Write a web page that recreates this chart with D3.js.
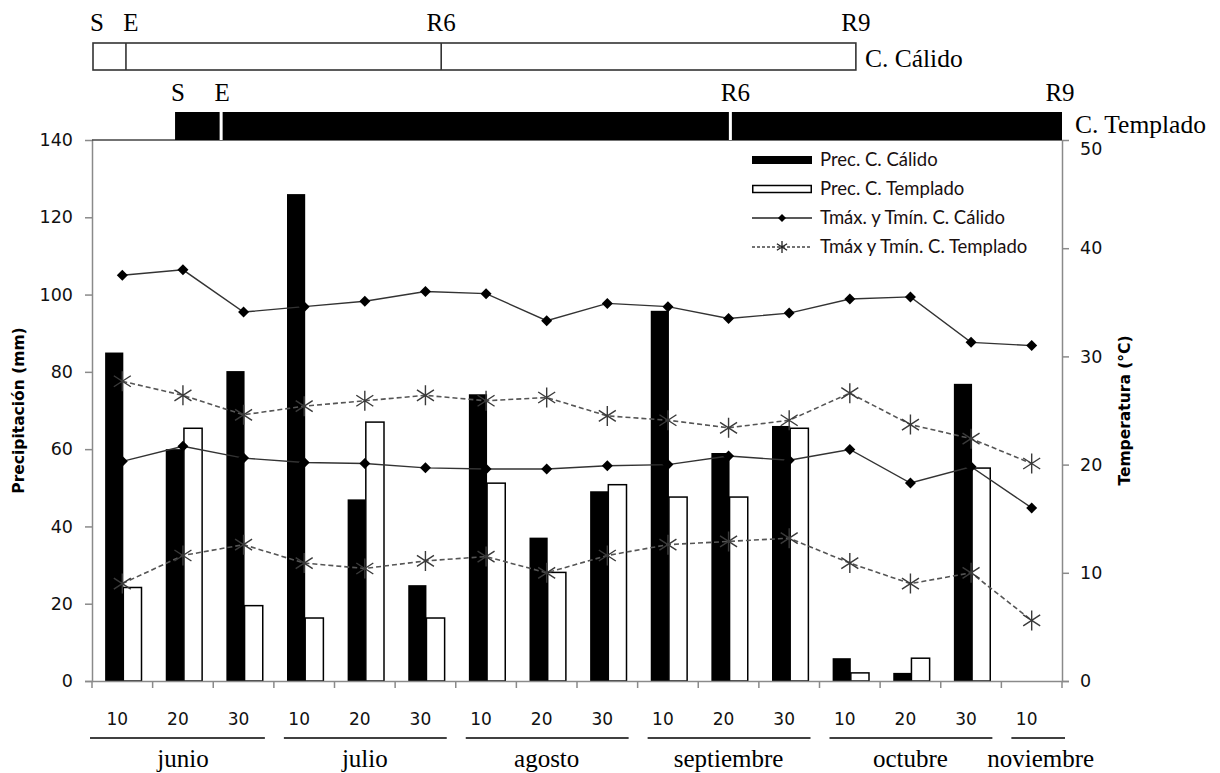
<!DOCTYPE html>
<html>
<head>
<meta charset="utf-8">
<script src="https://cdn.jsdelivr.net/npm/d3@7"></script>
<style>
  html, body { margin: 0; padding: 0; background: #fff; }
  svg { display: block; }
</style>
</head>
<body>
<svg id="chart" width="1220" height="773"></svg>
<script>
// ---------------- DATA ----------------
const decadeLabels = ["10","20","30","10","20","30","10","20","30","10","20","30","10","20","30","10"];
const months = ["junio","julio","agosto","septiembre","octubre","noviembre"];
const monthDecades = [3,3,3,3,3,1];

const precCalido   = [85, 60, 80.2, 126, 47, 24.8, 74.2, 37.1, 49.1, 95.8, 59, 66, 5.9, 2.1, 76.9, 0];
const precTemplado = [24.2, 65.4, 19.5, 16.3, 67, 16.3, 51.2, 28.1, 50.8, 47.6, 47.6, 65.4, 2.1, 5.9, 55.1, 0];

const tmaxCalido   = [37.5, 38.0, 34.1, 34.6, 35.1, 36.0, 35.8, 33.3, 34.9, 34.6, 33.5, 34.0, 35.3, 35.5, 31.3, 31.0];
const tminCalido   = [20.3, 21.7, 20.6, 20.2, 20.1, 19.7, 19.6, 19.6, 19.9, 20.0, 20.8, 20.4, 21.4, 18.3, 19.8, 16.0];
const tmaxTemplado = [27.7, 26.4, 24.6, 25.4, 25.9, 26.4, 25.9, 26.2, 24.5, 24.1, 23.4, 24.1, 26.6, 23.7, 22.4, 20.1];
const tminTemplado = [9.0, 11.6, 12.6, 10.9, 10.4, 11.1, 11.5, 10.0, 11.6, 12.6, 12.9, 13.2, 10.9, 9.0, 10.0, 5.6];

const precTicks = [0, 20, 40, 60, 80, 100, 120, 140];
const tempTicks = [0, 10, 20, 30, 40, 50];

// phenological stages, in decades from 1 June
const stageLabels = ["S", "E", "R6", "R9"];
const stagesCalido   = [0, 0.56, 5.76, 12.6];
const stagesTemplado = [1.37, 2.13, 10.53, 16];
const cycleNames = ["C. Cálido", "C. Templado"];

const legendLabels = ["Prec. C. Cálido", "Prec. C. Templado", "Tmáx. y Tmín. C. Cálido", "Tmáx y Tmín. C. Templado"];

// ---------------- LAYOUT ----------------
const L = 92, R = 1062, T = 140, B = 681;
const svg = d3.select("#chart");
svg.append("rect").attr("width", 1220).attr("height", 773).attr("fill", "#fff");

const x = d3.scaleBand().domain(d3.range(decadeLabels.length)).range([L, R]).paddingInner(0).paddingOuter(0);
const xu = d3.scaleLinear().domain([0, decadeLabels.length]).range([L, R]);
const yP = d3.scaleLinear().domain([0, 140]).range([B, T]);
const yT = d3.scaleLinear().domain([0, 50]).range([B, T]);

const axisColor = "#8a8a8a";
const numFont = "'DejaVu Sans', Verdana, sans-serif";
const serif = "'Liberation Serif', 'Times New Roman', serif";
const legendFont = "Lato, 'Open Sans', sans-serif";

// ---------------- BARS ----------------
const bw = x.bandwidth() * 0.3;
const cx = i => x(i) + x.bandwidth() / 2;

svg.append("g").selectAll("rect").data(precCalido).join("rect")
  .attr("x", (d, i) => cx(i) - bw + 1)
  .attr("y", d => yP(d))
  .attr("width", bw)
  .attr("height", d => B - yP(d))
  .attr("fill", "#000");

svg.append("g").selectAll("rect").data(precTemplado).join("rect")
  .filter(d => d > 0)
  .attr("x", (d, i) => cx(i) + 1)
  .attr("y", d => yP(d))
  .attr("width", bw)
  .attr("height", d => B - yP(d))
  .attr("fill", "#fff")
  .attr("stroke", "#000")
  .attr("stroke-width", 1.5);

// ---------------- AXES ----------------
const gx = svg.append("g").attr("transform", `translate(0,${B})`)
  .call(d3.axisBottom(x).tickSize(0).tickFormat(""));
gx.select(".domain").attr("stroke", axisColor).attr("stroke-width", 1.5);
svg.append("g").selectAll("line").data(d3.range(decadeLabels.length + 1)).join("line")
  .attr("x1", d => xu(d)).attr("x2", d => xu(d))
  .attr("y1", B).attr("y2", B + 7)
  .attr("stroke", axisColor).attr("stroke-width", 1.5);

svg.append("g").selectAll("text").data(decadeLabels).join("text")
  .attr("x", (d, i) => cx(i) - 5)
  .attr("y", 725)
  .attr("text-anchor", "middle")
  .attr("font-family", numFont)
  .attr("font-size", 17)
  .attr("fill", "#111")
  .text(d => d);

// month groups
let start = 0;
const monthSpans = months.map((m, i) => { const s = start; start += monthDecades[i]; return { m, s, e: start }; });
const mg = svg.append("g");
mg.selectAll("line").data(monthSpans).join("line")
  .attr("x1", d => xu(d.s) + (d.s === 0 ? -2 : 10))
  .attr("x2", d => xu(d.e) - (d.e === 16 ? -3 : 9))
  .attr("y1", 738).attr("y2", 738)
  .attr("stroke", "#000").attr("stroke-width", 1.6);
mg.selectAll("text").data(monthSpans).join("text")
  .attr("x", d => (xu(d.s) + xu(d.e)) / 2 + (d.e === 16 ? 9 : 0))
  .attr("y", 767)
  .attr("text-anchor", "middle")
  .attr("font-family", serif)
  .attr("font-size", 25)
  .attr("fill", "#000")
  .text(d => d.m);

// left axis
const gl = svg.append("g").attr("transform", `translate(${L},0)`)
  .call(d3.axisLeft(yP).tickValues(precTicks).tickSize(7).tickPadding(12));
gl.select(".domain").attr("stroke", axisColor).attr("stroke-width", 1.5);
gl.selectAll(".tick line").attr("stroke", axisColor).attr("stroke-width", 1.5)
  .filter(d => d === 140).remove();
gl.selectAll(".tick text").attr("font-family", numFont).attr("font-size", 17.5).attr("fill", "#111");

// right axis
const gr = svg.append("g").attr("transform", `translate(${R},0)`)
  .call(d3.axisRight(yT).tickValues(tempTicks).tickSize(7).tickPadding(11));
gr.select(".domain").attr("stroke", axisColor).attr("stroke-width", 1.5);
gr.selectAll(".tick line").attr("stroke", axisColor).attr("stroke-width", 1.5)
  .filter(d => d === 50).remove();
gr.selectAll(".tick text").attr("font-family", numFont).attr("font-size", 17.5).attr("fill", "#111")
  .filter(d => d === 50).attr("dy", "0.8em");

// top frame line
svg.append("line").attr("x1", L).attr("x2", R).attr("y1", T).attr("y2", T)
  .attr("stroke", "#444").attr("stroke-width", 1.5);

// axis titles
svg.append("text")
  .attr("transform", `translate(24,${(T + B) / 2}) rotate(-90)`)
  .attr("text-anchor", "middle")
  .attr("font-family", numFont).attr("font-weight", "bold").attr("font-size", 15.5)
  .attr("fill", "#000")
  .text("Precipitación (mm)");
svg.append("text")
  .attr("transform", `translate(1130,${(T + B) / 2}) rotate(-90)`)
  .attr("text-anchor", "middle")
  .attr("font-family", numFont).attr("font-weight", "bold").attr("font-size", 15.5)
  .attr("fill", "#000")
  .text("Temperatura (°C)");

// ---------------- LINES ----------------
const diamond = r => `M0,${-r}L${r},0L0,${r}L${-r},0Z`;
const asterisk = r => `M0,${-r}L0,${r}M${-r * 0.85},${-r * 0.55}L${r * 0.85},${r * 0.55}M${-r * 0.85},${r * 0.55}L${r * 0.85},${-r * 0.55}`;

const line = d3.line().x((d, i) => cx(i)).y(d => yT(d));

[tmaxCalido, tminCalido].forEach(s => {
  svg.append("path").datum(s).attr("d", line)
    .attr("fill", "none").attr("stroke", "#333").attr("stroke-width", 1.4);
  svg.append("g").selectAll("path").data(s).join("path")
    .attr("transform", (d, i) => `translate(${cx(i)},${yT(d)})`)
    .attr("d", diamond(5.5)).attr("fill", "#000");
});
[tmaxTemplado, tminTemplado].forEach(s => {
  svg.append("path").datum(s).attr("d", line)
    .attr("fill", "none").attr("stroke", "#555").attr("stroke-width", 1.6)
    .attr("stroke-dasharray", "5,3");
  svg.append("g").selectAll("path").data(s).join("path")
    .attr("transform", (d, i) => `translate(${cx(i)},${yT(d)})`)
    .attr("d", asterisk(10)).attr("fill", "none").attr("stroke", "#3a3a3a").attr("stroke-width", 1.4);
});

// ---------------- LEGEND ----------------
const lg = svg.append("g");
const lx0 = 752, lx1 = 812, ly = [160, 189, 218, 247];
lg.append("rect").attr("x", lx0).attr("y", ly[0] - 4).attr("width", lx1 - lx0).attr("height", 8).attr("fill", "#000");
lg.append("rect").attr("x", lx0 + 0.75).attr("y", ly[1] - 3.5).attr("width", lx1 - lx0 - 1.5).attr("height", 7)
  .attr("fill", "#fff").attr("stroke", "#000").attr("stroke-width", 1.5);
lg.append("line").attr("x1", lx0).attr("x2", lx1).attr("y1", ly[2]).attr("y2", ly[2]).attr("stroke", "#222").attr("stroke-width", 1.4);
lg.append("path").attr("transform", `translate(${(lx0 + lx1) / 2},${ly[2]})`).attr("d", diamond(4)).attr("fill", "#000");
lg.append("line").attr("x1", lx0).attr("x2", lx1).attr("y1", ly[3]).attr("y2", ly[3]).attr("stroke", "#444").attr("stroke-width", 1.4).attr("stroke-dasharray", "3,2");
lg.append("path").attr("transform", `translate(${(lx0 + lx1) / 2},${ly[3]})`).attr("d", asterisk(6)).attr("fill", "none").attr("stroke", "#222").attr("stroke-width", 1.3);
lg.selectAll("text").data(legendLabels).join("text")
  .attr("x", 820).attr("y", (d, i) => ly[i])
  .attr("dy", "0.35em")
  .attr("font-family", legendFont).attr("font-size", 18.5)
  .attr("fill", "#1a1010")
  .text(d => d);

// ---------------- PHENOLOGY BARS ----------------
const ph = svg.append("g");
ph.append("rect")
  .attr("x", xu(stagesCalido[0]) + 1).attr("y", 43)
  .attr("width", xu(stagesCalido[3]) - xu(stagesCalido[0]) - 1).attr("height", 27)
  .attr("fill", "#fff").attr("stroke", "#333").attr("stroke-width", 1.6);
ph.selectAll("line.c").data(stagesCalido.slice(1, 3)).join("line")
  .attr("x1", d => xu(d)).attr("x2", d => xu(d)).attr("y1", 43).attr("y2", 70)
  .attr("stroke", "#333").attr("stroke-width", 1.6);
ph.selectAll("text.c").data(stageLabels).join("text")
  .attr("x", (d, i) => xu(stagesCalido[i]) + (i < 2 ? 5 : 0))
  .attr("y", 31)
  .attr("text-anchor", "middle")
  .attr("font-family", serif).attr("font-size", 25).attr("fill", "#000")
  .text(d => d);
ph.append("text").attr("x", xu(stagesCalido[3]) + 9).attr("y", 67)
  .attr("font-family", serif).attr("font-size", 25.5).attr("fill", "#000")
  .text(cycleNames[0]);

ph.append("rect")
  .attr("x", xu(stagesTemplado[0])).attr("y", 112)
  .attr("width", xu(stagesTemplado[3]) - xu(stagesTemplado[0])).attr("height", 28)
  .attr("fill", "#000");
ph.selectAll("line.t").data(stagesTemplado.slice(1, 3)).join("line")
  .attr("x1", d => xu(d)).attr("x2", d => xu(d)).attr("y1", 112).attr("y2", 140)
  .attr("stroke", "#fff").attr("stroke-width", 3);
ph.selectAll("text.t").data(stageLabels).join("text")
  .attr("x", (d, i) => xu(stagesTemplado[i]) + [3, 1, 5, -2][i])
  .attr("y", 101)
  .attr("text-anchor", "middle")
  .attr("font-family", serif).attr("font-size", 25).attr("fill", "#000")
  .text(d => d);
ph.append("text").attr("x", xu(stagesTemplado[3]) + 13).attr("y", 133)
  .attr("font-family", serif).attr("font-size", 25.5).attr("fill", "#000")
  .text(cycleNames[1]);
</script>
</body>
</html>
